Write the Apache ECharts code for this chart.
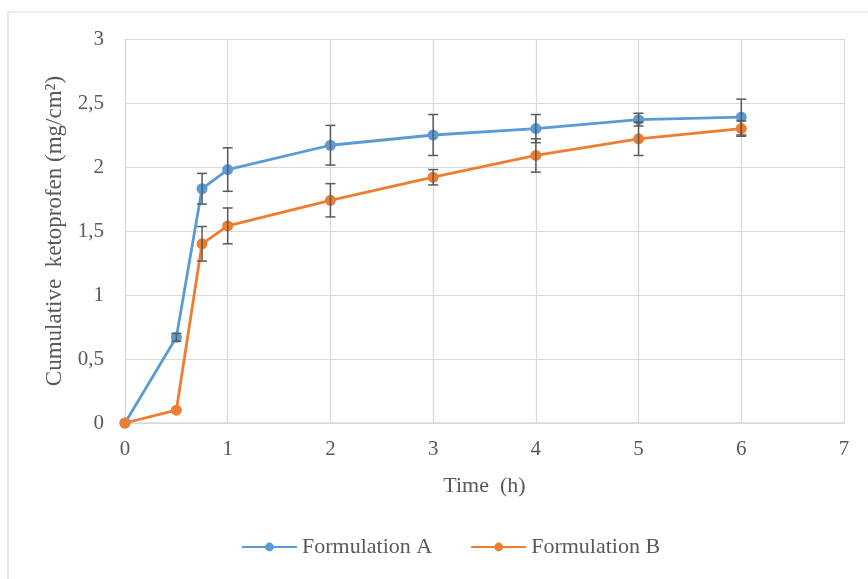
<!DOCTYPE html>
<html>
<head>
<meta charset="utf-8">
<script src="https://cdn.jsdelivr.net/npm/echarts@6/dist/echarts.min.js"></script>
<style>
  html,body{margin:0;padding:0;background:#fff;}
  #chart{width:868px;height:579px;}
</style>
</head>
<body>
<div id="chart"></div>
<script>
// time points (h)
var times = [0, 0.5, 0.75, 1, 2, 3, 4, 5, 6];
// cumulative ketoprofen (mg/cm2)
var formA = [0, 0.67, 1.83, 1.98, 2.17, 2.25, 2.30, 2.37, 2.39];
var formB = [0, 0.10, 1.40, 1.54, 1.74, 1.92, 2.09, 2.22, 2.30];
// standard deviations
var errA = [0, 0.03, 0.12, 0.17, 0.155, 0.16, 0.11, 0.05, 0.14];
var errB = [0, 0, 0.135, 0.14, 0.13, 0.06, 0.13, 0.13, 0.06];
var yTicks = ['0', '0,5', '1', '1,5', '2', '2,5', '3'];

var font = '"Liberation Serif", "DejaVu Serif", serif';
var grey = '#595959';

function pairs(vals){
  return times.map(function(t, i){ return [t, vals[i]]; });
}
function errData(vals, errs){
  return times.map(function(t, i){ return [t, vals[i], errs[i]]; });
}

function renderErr(params, api){
  var x = api.value(0), y = api.value(1), e = api.value(2);
  if (!e) return;
  var hi = api.coord([x, y + e]);
  var lo = api.coord([x, y - e]);
  var w = 5;
  var st = {stroke: grey, lineWidth: 1.5};
  return {
    type: 'group',
    children: [
      {type: 'line', shape: {x1: hi[0], y1: hi[1], x2: lo[0], y2: lo[1]}, style: st},
      {type: 'line', shape: {x1: hi[0] - w, y1: hi[1], x2: hi[0] + w, y2: hi[1]}, style: st},
      {type: 'line', shape: {x1: lo[0] - w, y1: lo[1], x2: lo[0] + w, y2: lo[1]}, style: st}
    ]
  };
}

var chart = echarts.init(document.getElementById('chart'));
chart.setOption({
  backgroundColor: '#fff',
  animation: false,
  graphic: [{
    type: 'rect',
    shape: {x: 8, y: 12, width: 900, height: 600},
    style: {fill: 'none', stroke: '#d9d9d9', lineWidth: 1.2},
    silent: true
  }],
  grid: {left: 125, right: 24, top: 39, bottom: 156},
  legend: {
    bottom: 16,
    left: 236,
    itemWidth: 55,
    itemHeight: 11,
    itemGap: 38,
    textStyle: {fontFamily: font, fontSize: 22, color: grey},
    data: ['Formulation A', 'Formulation B']
  },
  xAxis: {
    type: 'value',
    min: 0, max: 7, interval: 1,
    name: 'Time  (h)',
    nameLocation: 'middle',
    nameGap: 52,
    nameTextStyle: {fontFamily: font, fontSize: 22, color: grey},
    axisLine: {lineStyle: {color: '#d9d9d9', width: 1.5}},
    axisTick: {show: false},
    axisLabel: {fontFamily: font, fontSize: 21, color: grey, margin: 16},
    splitLine: {lineStyle: {color: '#d9d9d9', width: 1.2}}
  },
  yAxis: {
    type: 'value',
    min: 0, max: 3, interval: 0.5,
    name: 'Cumulative  ketoprofen (mg/cm²)',
    nameLocation: 'middle',
    nameGap: 58,
    nameTextStyle: {fontFamily: font, fontSize: 23, color: grey},
    axisLine: {show: true, lineStyle: {color: '#d9d9d9', width: 1.2}},
    axisTick: {show: false},
    axisLabel: {
      fontFamily: font, fontSize: 21, color: grey, margin: 21,
      formatter: function(v){ return yTicks[Math.round(v * 2)]; }
    },
    splitLine: {lineStyle: {color: '#d9d9d9', width: 1.2}}
  },
  series: [
    {
      name: 'Formulation A', type: 'line', data: pairs(formA),
      symbol: 'circle', symbolSize: 11,
      itemStyle: {color: '#5B9BD5'},
      lineStyle: {color: '#5B9BD5', width: 2.8},
      z: 3
    },
    {
      name: 'Formulation B', type: 'line', data: pairs(formB),
      symbol: 'circle', symbolSize: 11,
      itemStyle: {color: '#ED7D31'},
      lineStyle: {color: '#ED7D31', width: 2.8},
      z: 3
    },
    {
      type: 'custom', data: errData(formA, errA), renderItem: renderErr,
      encode: {x: 0, y: [1]}, z: 4, silent: true
    },
    {
      type: 'custom', data: errData(formB, errB), renderItem: renderErr,
      encode: {x: 0, y: [1]}, z: 4, silent: true
    }
  ]
});
</script>
</body>
</html>
